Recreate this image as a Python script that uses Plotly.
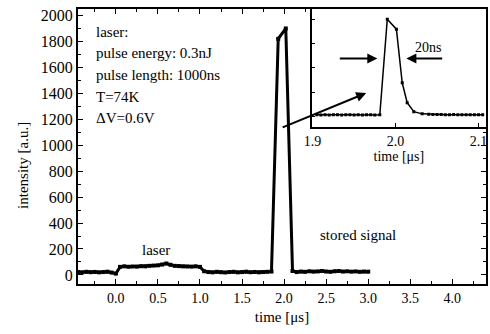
import plotly.graph_objects as go

# main trace: time [us] and intensity [a.u.]
t_main = [-0.45, -0.40, -0.35, -0.30, -0.25, -0.20, -0.15, -0.10, -0.05, 0.00,
          0.05, 0.10, 0.15, 0.20, 0.25, 0.30, 0.35, 0.40, 0.45, 0.50,
          0.55, 0.60, 0.65, 0.70, 0.75, 0.80, 0.85, 0.90, 0.95, 1.00,
          1.05, 1.10, 1.15, 1.20, 1.25, 1.30, 1.35, 1.40, 1.45, 1.50,
          1.55, 1.60, 1.65, 1.70, 1.75, 1.80, 1.85, 1.93, 2.02, 2.10,
          2.15, 2.20, 2.25, 2.30, 2.35, 2.40, 2.45, 2.50, 2.55, 2.60,
          2.65, 2.70, 2.75, 2.80, 2.85, 2.90, 2.95, 3.00]
v_main = [22, 20, 24, 21, 23, 20, 22, 25, 18, 10,
          62, 66, 63, 65, 64, 67, 66, 70, 72, 74,
          80, 88, 78, 70, 68, 66, 65, 64, 66, 62,
          28, 22, 20, 24, 21, 19, 22, 24, 20, 22,
          25, 21, 23, 20, 22, 24, 26, 1820, 1900, 30,
          22, 26, 24, 28, 25, 27, 30, 26, 24, 28,
          30, 26, 28, 25, 27, 24, 26, 25]

# inset trace (zoom on stored signal)
t_inset = [1.905, 1.910, 1.915, 1.920, 1.925, 1.930, 1.935, 1.940, 1.945, 1.950,
           1.955, 1.960, 1.965, 1.970, 1.975, 1.981, 1.990, 2.001, 2.008, 2.014,
           2.022, 2.032, 2.040, 2.045, 2.050, 2.055, 2.060, 2.065, 2.070, 2.075,
           2.080, 2.085, 2.090, 2.095, 2.100, 2.105]
v_inset = [30, 28, 31, 29, 30, 32, 29, 30, 31, 28,
           30, 29, 31, 30, 29, 32, 2000, 1795, 690, 280,
           95, 50, 40, 38, 35, 36, 34, 33, 35, 32,
           34, 33, 30, 32, 31, 30]

x_ticks = [0.0, 0.5, 1.0, 1.5, 2.0, 2.5, 3.0, 3.5, 4.0]
x_ticklabels = ["0.0", "0.5", "1.0", "1.5", "2.0", "2.5", "3.0", "3.5", "4.0"]
y_ticks = [0, 200, 400, 600, 800, 1000, 1200, 1400, 1600, 1800, 2000]
inset_ticks = [1.9, 2.0, 2.1]
inset_ticklabels = ["1.9", "2.0", "2.1"]

info_lines = ["laser:", "pulse energy: 0.3nJ", "pulse length: 1000ns", "T=74K", "\u0394V=0.6V"]
info_y = [1873, 1707, 1541, 1375, 1210]

FONT = "Liberation Serif"

fig = go.Figure()
fig.add_trace(go.Scatter(x=t_main, y=v_main, mode="lines+markers",
                         line=dict(color="black", width=3),
                         marker=dict(color="black", size=4, symbol="square"),
                         xaxis="x", yaxis="y", showlegend=False))
fig.add_trace(go.Scatter(x=t_inset, y=v_inset, mode="lines+markers",
                         line=dict(color="black", width=1.5),
                         marker=dict(color="black", size=3, symbol="square"),
                         xaxis="x2", yaxis="y2", showlegend=False))

axis_common = dict(showline=True, linecolor="black", linewidth=2, ticks="inside",
                   tickcolor="black", showgrid=False, zeroline=False)

fig.update_layout(
    width=490, height=334,
    margin=dict(l=78, r=2, t=9, b=50),
    paper_bgcolor="white", plot_bgcolor="white",
    font=dict(family=FONT, color="black"),
    xaxis=dict(range=[-0.45, 4.4], tickvals=x_ticks, ticktext=x_ticklabels,
               ticklen=5, mirror="ticks",
               tickfont=dict(family=FONT, size=14, color="black"),
               minor=dict(dtick=0.25, tick0=0, ticklen=3, ticks="inside", tickcolor="black"),
               title=dict(text="time [\u03bcs]", font=dict(family=FONT, size=15), standoff=7),
               **axis_common),
    yaxis=dict(range=[-70, 2050], tickvals=y_ticks, ticklen=5, mirror="ticks",
               tickfont=dict(family=FONT, size=16, color="black"),
               minor=dict(dtick=100, tick0=0, ticklen=3, ticks="inside", tickcolor="black"),
               **axis_common),
    xaxis2=dict(domain=[0.573, 1.0], anchor="y2", range=[1.899, 2.109],
                tickvals=inset_ticks, ticktext=inset_ticklabels, ticklen=4,
                tickfont=dict(family=FONT, size=14, color="black"),
                title=dict(text="time [\u03bcs]", font=dict(family=FONT, size=14), standoff=1),
                **axis_common),
    yaxis2=dict(domain=[0.571, 1.0], anchor="x2", range=[-220, 2210],
                showticklabels=False, dtick=500, ticklen=3,
                **axis_common),
)

annotations = []
for txt, yy in zip(info_lines, info_y):
    annotations.append(dict(x=-0.26, y=yy, xref="x", yref="y", text=txt, showarrow=False,
                            xanchor="left", yanchor="middle",
                            font=dict(family=FONT, size=15, color="black")))
annotations.append(dict(x=0.48, y=192, xref="x", yref="y", text="laser", showarrow=False,
                        font=dict(family=FONT, size=15, color="black")))
annotations.append(dict(x=2.88, y=308, xref="x", yref="y", text="stored signal", showarrow=False,
                        font=dict(family=FONT, size=15, color="black")))
annotations.append(dict(x=-0.159, y=0.43, xref="paper", yref="paper", text="intensity [a.u.]",
                        textangle=-90, showarrow=False,
                        font=dict(family=FONT, size=15, color="black")))
# arrow from main peak to inset
annotations.append(dict(x=2.976, y=1402, xref="x", yref="y", ax=1.965, ay=1133,
                        axref="x", ayref="y", showarrow=True, arrowhead=2, arrowsize=1,
                        arrowwidth=2, arrowcolor="black", text=""))
# width arrows in inset
annotations.append(dict(x=1.978, y=1192, xref="x2", yref="y2", ax=1.931, ay=1192,
                        axref="x2", ayref="y2", showarrow=True, arrowhead=2, arrowsize=1,
                        arrowwidth=2, arrowcolor="black", text=""))
annotations.append(dict(x=2.013, y=1192, xref="x2", yref="y2", ax=2.058, ay=1192,
                        axref="x2", ayref="y2", showarrow=True, arrowhead=2, arrowsize=1,
                        arrowwidth=2, arrowcolor="black", text=""))
annotations.append(dict(x=2.039, y=1421, xref="x2", yref="y2", text="20ns", showarrow=False,
                        font=dict(family=FONT, size=14, color="black")))
fig.update_layout(annotations=annotations)

fig.write_html("out.html")
